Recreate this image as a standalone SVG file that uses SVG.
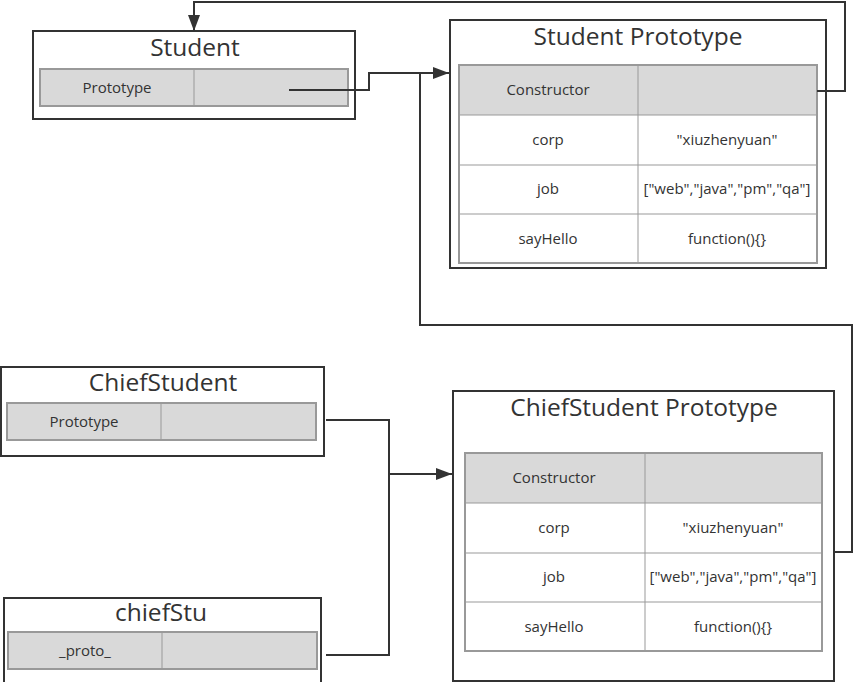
<svg xmlns="http://www.w3.org/2000/svg" width="854" height="682" viewBox="0 0 854 682">
<style>
.box{fill:#fff;stroke:#333;stroke-width:2}
.tbl{fill:none;stroke:#999;stroke-width:2}
.gray{fill:#d9d9d9}
.ln{stroke:#999;stroke-width:1;fill:none}
.title{font-family:"Open Sans","Noto Sans",sans-serif;font-size:24.5px;fill:#333;text-anchor:middle}
.cell{font-family:"Open Sans","Noto Sans",sans-serif;font-size:15px;fill:#333;text-anchor:middle}
.conn{fill:none;stroke:#333;stroke-width:2}
</style>
<defs>
<marker id="arrL" viewBox="0 0 16 12" refX="16" refY="6" markerWidth="16" markerHeight="12" markerUnits="userSpaceOnUse" orient="auto"><path d="M0,0 L16,6 L0,12 z" fill="#333"/></marker>
</defs>
<g id="student">
<rect class="box" x="33" y="31" width="322" height="88"/>
<text class="title" x="195" y="56">Student</text>
<rect class="gray" x="40" y="69" width="308" height="37"/>
<line class="ln" x1="194" y1="69" x2="194" y2="106"/>
<rect class="tbl" x="40" y="69" width="308" height="37"/>
<text class="cell" x="117" y="93">Prototype</text>
</g>
<g id="student-prototype">
<rect class="box" x="450" y="20" width="376" height="248"/>
<text class="title" x="638" y="45">Student Prototype</text>
<rect class="gray" x="459" y="65" width="358" height="50"/>
<line class="ln" x1="459" y1="115" x2="817" y2="115"/>
<line class="ln" x1="459" y1="165" x2="817" y2="165"/>
<line class="ln" x1="459" y1="214" x2="817" y2="214"/>
<line class="ln" x1="638" y1="65" x2="638" y2="263"/>
<rect class="tbl" x="459" y="65" width="358" height="198"/>
<text class="cell" x="548" y="95">Constructor</text>
<text class="cell" x="548" y="145">corp</text>
<text class="cell" x="727" y="145">"xiuzhenyuan"</text>
<text class="cell" x="548" y="194">job</text>
<text class="cell" x="727" y="194">["web","java","pm","qa"]</text>
<text class="cell" x="548" y="244">sayHello</text>
<text class="cell" x="727" y="244">function(){}</text>
</g>
<g id="chiefstudent">
<rect class="box" x="1" y="367" width="323" height="89"/>
<text class="title" x="163" y="391">ChiefStudent</text>
<rect class="gray" x="7" y="403" width="309" height="37"/>
<line class="ln" x1="161" y1="403" x2="161" y2="440"/>
<rect class="tbl" x="7" y="403" width="309" height="37"/>
<text class="cell" x="84" y="427">Prototype</text>
</g>
<g id="chiefstu">
<rect class="box" x="4" y="598" width="317" height="90"/>
<text class="title" x="161" y="621">chiefStu</text>
<rect class="gray" x="8" y="632" width="309" height="37"/>
<line class="ln" x1="162" y1="632" x2="162" y2="669"/>
<rect class="tbl" x="8" y="632" width="309" height="37"/>
<text class="cell" x="85" y="656">_proto_</text>
</g>
<g id="chiefstudent-prototype">
<rect class="box" x="453" y="391" width="381" height="290"/>
<text class="title" x="644" y="416">ChiefStudent Prototype</text>
<rect class="gray" x="465" y="453" width="357" height="50"/>
<line class="ln" x1="465" y1="503" x2="822" y2="503"/>
<line class="ln" x1="465" y1="553" x2="822" y2="553"/>
<line class="ln" x1="465" y1="602" x2="822" y2="602"/>
<line class="ln" x1="645" y1="453" x2="645" y2="651"/>
<rect class="tbl" x="465" y="453" width="357" height="198"/>
<text class="cell" x="554" y="483">Constructor</text>
<text class="cell" x="554" y="533">corp</text>
<text class="cell" x="733" y="533">"xiuzhenyuan"</text>
<text class="cell" x="554" y="582">job</text>
<text class="cell" x="733" y="582">["web","java","pm","qa"]</text>
<text class="cell" x="554" y="632">sayHello</text>
<text class="cell" x="733" y="632">function(){}</text>
</g>
<g id="connectors">
<path class="conn" d="M289,90 H369 V73 H449" marker-end="url(#arrL)"/>
<path class="conn" d="M835,552 H852 V325 H420 V74"/>
<path class="conn" d="M817,91 H845 V2 H194 V31" marker-end="url(#arrL)"/>
<path class="conn" d="M326,420 H389 V655 H326"/>
<path class="conn" d="M389,474 H452" marker-end="url(#arrL)"/>
</g>
</svg>
